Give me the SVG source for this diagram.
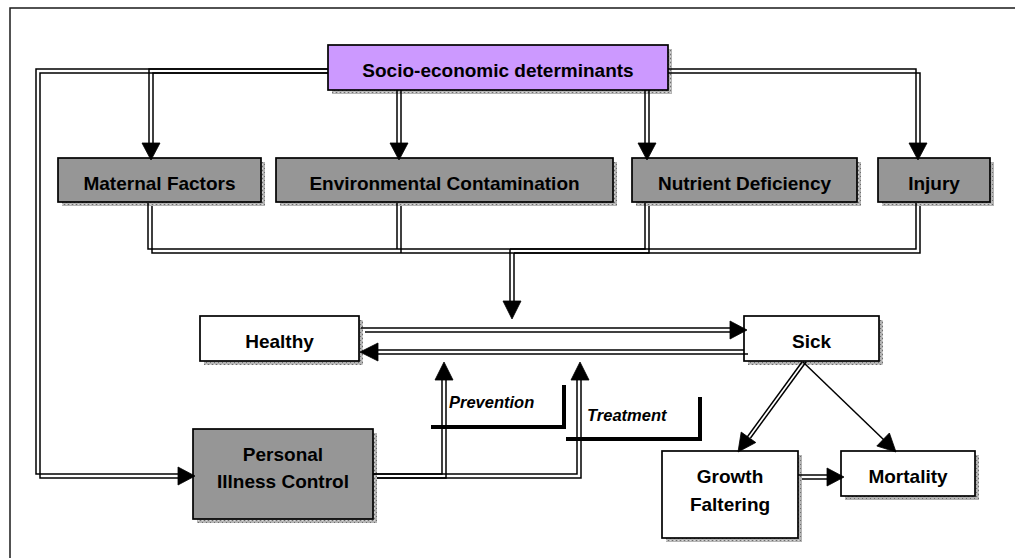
<svg xmlns="http://www.w3.org/2000/svg" width="1015" height="558" viewBox="0 0 1015 558">
<defs>
<pattern id="stip" width="4" height="4" patternUnits="userSpaceOnUse">
<rect width="4" height="4" fill="#b4b4b4"/>
<rect x="0" y="0" width="1" height="1" fill="#6e6e6e"/>
<rect x="2" y="2" width="1" height="1" fill="#6e6e6e"/>
<rect x="2" y="0" width="1" height="1" fill="#d8d8d8"/>
</pattern>
<style>
.frame{fill:none;stroke:#1a1a1a;stroke-width:1.5}
.sh{fill:url(#stip)}
.box{stroke:#000;stroke-width:1.7}
.grey{fill:#969696}
.white{fill:#ffffff}
.purple{fill:#cc99ff}
.lbl{font-family:"Liberation Sans",Arial,sans-serif;font-weight:bold;font-size:19px;fill:#000;text-anchor:middle}
.it{font-family:"Liberation Sans",Arial,sans-serif;font-weight:bold;font-style:italic;font-size:16.5px;fill:#000}
.ln{fill:none;stroke:#000;stroke-width:1.5}
.ah{fill:#000;stroke:#000;stroke-width:0.8;stroke-linejoin:miter}
.br{fill:none;stroke:#000;stroke-width:4}
</style>
</defs>
<rect class="frame" x="10" y="8" width="1020" height="560"/>

<g id="socio">
<rect class="sh" x="332" y="49" width="340" height="45"/>
<rect class="box purple" x="328" y="45" width="340" height="45"/>
<text class="lbl" x="498" y="77">Socio-economic determinants</text>
</g>
<g id="maternal">
<rect class="sh" x="62" y="162" width="203" height="44"/>
<rect class="box grey" x="58" y="158" width="203" height="44"/>
<text class="lbl" x="159.5" y="190">Maternal Factors</text>
</g>
<g id="environmental">
<rect class="sh" x="280" y="162" width="337" height="44"/>
<rect class="box grey" x="276" y="158" width="337" height="44"/>
<text class="lbl" x="444.5" y="190">Environmental Contamination</text>
</g>
<g id="nutrient">
<rect class="sh" x="636" y="162" width="225" height="44"/>
<rect class="box grey" x="632" y="158" width="225" height="44"/>
<text class="lbl" x="744.5" y="190">Nutrient Deficiency</text>
</g>
<g id="injury">
<rect class="sh" x="882" y="162" width="112" height="44"/>
<rect class="box grey" x="878" y="158" width="112" height="44"/>
<text class="lbl" x="934" y="190">Injury</text>
</g>
<g id="healthy">
<rect class="sh" x="204" y="320" width="159" height="45"/>
<rect class="box white" x="200" y="316" width="159" height="45"/>
<text class="lbl" x="279.5" y="348">Healthy</text>
</g>
<g id="sick">
<rect class="sh" x="748" y="320" width="135" height="45"/>
<rect class="box white" x="744" y="316" width="135" height="45"/>
<text class="lbl" x="811.5" y="348">Sick</text>
</g>
<g id="personal">
<rect class="sh" x="197" y="433" width="180" height="90"/>
<rect class="box grey" x="193" y="429" width="180" height="90"/>
<text class="lbl" x="283" y="461">Personal</text>
<text class="lbl" x="283" y="488">Illness Control</text>
</g>
<g id="growth">
<rect class="sh" x="666" y="455" width="136" height="87"/>
<rect class="box white" x="662" y="451" width="136" height="87"/>
<text class="lbl" x="730" y="483">Growth</text>
<text class="lbl" x="730" y="511">Faltering</text>
</g>
<g id="mortality">
<rect class="sh" x="845" y="455" width="134" height="45"/>
<rect class="box white" x="841" y="451" width="134" height="45"/>
<text class="lbl" x="908" y="483">Mortality</text>
</g>

<g id="connectors">
<!-- Socio -> Maternal -->
<path class="ln" d="M328,69 H149 V146"/>
<path class="ln" d="M328,73 H153 V146"/>
<polygon class="ah" points="142,143 160,143 151,160"/>
<!-- Socio -> Environmental -->
<path class="ln" d="M397,90 V146"/>
<path class="ln" d="M401,90 V146"/>
<polygon class="ah" points="390,143 408,143 399,160"/>
<!-- Socio -> Nutrient -->
<path class="ln" d="M645,90 V146"/>
<path class="ln" d="M649,90 V146"/>
<polygon class="ah" points="638,143 656,143 647,160"/>
<!-- Socio -> Injury -->
<path class="ln" d="M668,69 H916 V146"/>
<path class="ln" d="M668,73 H920 V146"/>
<polygon class="ah" points="909,143 927,143 918,160"/>
<!-- Socio -> Personal Illness Control -->
<path class="ln" d="M328,69 H36 V474 H180"/>
<path class="ln" d="M328,73 H40 V478 H180"/>
<polygon class="ah" points="178,467 178,485 195,476"/>
<!-- Determinants -> Healthy/Sick -->
<path class="ln" d="M148,203 V249 H510"/>
<path class="ln" d="M152,206 V253 H514"/>
<path class="ln" d="M397,203 V249"/>
<path class="ln" d="M401,206 V253"/>
<path class="ln" d="M645,203 V249 H510"/>
<path class="ln" d="M649,206 V253 H514"/>
<path class="ln" d="M916,203 V249 H510"/>
<path class="ln" d="M920,206 V253 H514"/>
<path class="ln" d="M510,249 V304"/>
<path class="ln" d="M514,253 V304"/>
<polygon class="ah" points="503,301 521,301 512,319"/>
<!-- Healthy -> Sick -->
<path class="ln" d="M361,328 H732"/>
<path class="ln" d="M365,332 H732"/>
<polygon class="ah" points="730,321 730,339 747,330"/>
<!-- Sick -> Healthy -->
<path class="ln" d="M744,350 H376"/>
<path class="ln" d="M748,354 H376"/>
<polygon class="ah" points="378,343 378,361 360,352"/>
<!-- Personal Illness Control -> Prevention / Treatment -->
<path class="ln" d="M373,474 H442 V378"/>
<path class="ln" d="M377,478 H446 V378"/>
<polygon class="ah" points="435,380 453,380 444,362"/>
<path class="ln" d="M373,474 H577 V378"/>
<path class="ln" d="M377,478 H581 V378"/>
<polygon class="ah" points="571,380 589,380 580,362"/>
<!-- Sick -> Growth Faltering -->
<path class="ln" d="M802,362 L746.5,438"/>
<path class="ln" d="M806,362 L750.5,438"/>
<polygon class="ah" points="755.8,442.5 741.2,432.1 738,452"/>
<!-- Sick -> Mortality -->
<path class="ln" d="M803,362 L884,440"/>
<polygon class="ah" points="876.8,446 889.4,433 896,452"/>
<!-- Growth Faltering -> Mortality -->
<path class="ln" d="M798,475 H829"/>
<path class="ln" d="M802,479 H829"/>
<polygon class="ah" points="827,468 827,486 844,477"/>
</g>

<g id="labels">
<polyline class="br" points="431,427 564,427 564,385"/>
<text class="it" x="449" y="408">Prevention</text>
<polyline class="br" points="566,439 700,439 700,397"/>
<text class="it" x="587" y="421">Treatment</text>
</g>
</svg>
